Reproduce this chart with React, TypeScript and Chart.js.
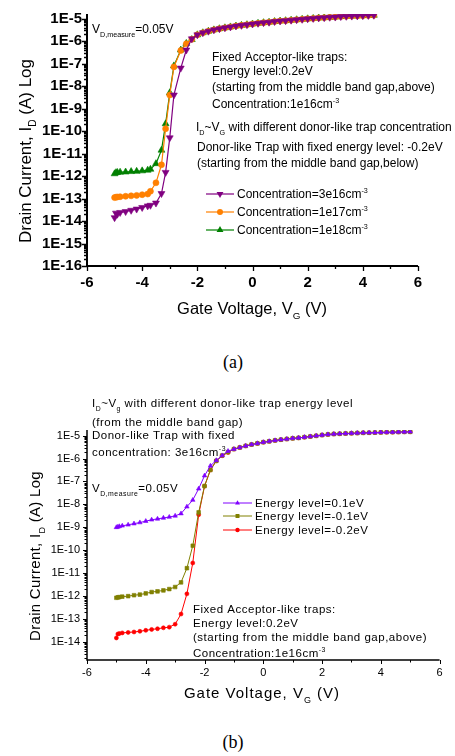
import React, { useEffect, useRef } from "react";
import { Chart, registerables } from "chart.js";

Chart.register(...registerables);

const SANS = '"Liberation Sans", Arial, sans-serif';
const SERIF = '"Liberation Serif", "Times New Roman", serif';

// ---------------- Chart (a): different donor-like trap concentration ----------------
const A_GATE_V = [
  -5, -4.95, -4.9, -4.8, -4.6, -4.4, -4.2, -4.0, -3.8, -3.7, -3.5, -3.3, -3.15, -3.0, -2.85, -2.6, -2.4, -2.2,
  -2.0, -1.8, -1.6, -1.4, -1.2, -1.0, -0.8, -0.6, -0.4, -0.2, 0, 0.2, 0.4, 0.6, 0.8, 1.0, 1.2, 1.4, 1.6, 1.8,
  2.0, 2.2, 2.4, 2.6, 2.8, 3.0, 3.2, 3.4, 3.6, 3.8, 4.0, 4.2, 4.4,
];
// on-state current shared by all three curves (-2.0 V .. 4.4 V)
const A_ON_STATE = [
  1.9e-6, 2.35e-6, 2.75e-6, 3.16e-6, 3.55e-6, 3.9e-6, 4.27e-6, 4.68e-6, 5.0e-6, 5.37e-6, 5.75e-6, 6.17e-6,
  6.6e-6, 6.9e-6, 7.4e-6, 7.8e-6, 8.1e-6, 8.5e-6, 8.9e-6, 9.3e-6, 9.8e-6, 1.02e-5, 1.07e-5, 1.1e-5, 1.15e-5,
  1.17e-5, 1.23e-5, 1.26e-5, 1.29e-5, 1.32e-5, 1.35e-5, 1.38e-5, 1.41e-5,
];
// sub-threshold part (-5 V .. -2.2 V)
const A_CONC_3E16_LOW = [
  1.41e-14, 2.24e-14, 2.0e-14, 2.4e-14, 2.63e-14, 3.0e-14, 3.4e-14, 4.0e-14, 4.7e-14, 5.0e-14, 6.3e-14,
  1.66e-13, 1.45e-12, 5.0e-11, 4.0e-9, 6.3e-8, 4.0e-7, 1.26e-6,
];
const A_CONC_1E17_LOW = [
  1.1e-13, 1.15e-13, 1.17e-13, 1.2e-13, 1.26e-13, 1.32e-13, 1.38e-13, 1.48e-13, 1.58e-13, 2.1e-13, 5.0e-13,
  3.16e-12, 1.26e-10, 4.0e-9, 7.1e-8, 3.8e-7, 7.6e-7, 1.2e-6,
];
const A_CONC_1E18_LOW = [
  1.26e-12, 1.41e-12, 1.45e-12, 1.48e-12, 1.51e-12, 1.58e-12, 1.62e-12, 1.7e-12, 1.82e-12, 2.0e-12, 3.55e-12,
  1.41e-11, 2.1e-10, 5.0e-9, 7.9e-8, 4.0e-7, 7.9e-7, 1.17e-6,
];
const A_CONC_3E16 = [...A_CONC_3E16_LOW, ...A_ON_STATE];
const A_CONC_1E17 = [...A_CONC_1E17_LOW, ...A_ON_STATE];
const A_CONC_1E18 = [...A_CONC_1E18_LOW, ...A_ON_STATE];
const A_SERIES = ["Concentration=3e16cm", "Concentration=1e17cm", "Concentration=1e18cm"];
const A_X_TICKS = [-6, -4, -2, 0, 2, 4, 6];
const A_Y_TICK_EXP = [-16, -15, -14, -13, -12, -11, -10, -9, -8, -7, -6, -5];

// ---------------- Chart (b): different donor-like trap energy level ----------------
const B_GATE_V = [
  -5, -4.95, -4.9, -4.8, -4.6, -4.4, -4.2, -4.0, -3.8, -3.6, -3.4, -3.2, -3.0, -2.8, -2.6, -2.4, -2.2, -2.0,
  -1.8, -1.6, -1.4, -1.2, -1.0, -0.8, -0.6, -0.4, -0.2, 0, 0.2, 0.4, 0.6, 0.8, 1.0, 1.2, 1.4, 1.6, 1.8, 2.0,
  2.2, 2.4, 2.6, 2.8, 3.0, 3.2, 3.4, 3.6, 3.8, 4.0, 4.2, 4.4, 4.6, 4.8, 5.0,
];
// on-state (-1.0 V .. 5.0 V)
const B_ON_STATE = [
  2.57e-6, 3.02e-6, 3.55e-6, 4.07e-6, 4.57e-6, 5.13e-6, 5.62e-6, 6.17e-6, 6.61e-6, 7.08e-6, 7.59e-6, 7.94e-6,
  8.51e-6, 9.12e-6, 9.77e-6, 1.05e-5, 1.12e-5, 1.17e-5, 1.2e-5, 1.23e-5, 1.26e-5, 1.29e-5, 1.32e-5, 1.33e-5,
  1.35e-5, 1.38e-5, 1.4e-5, 1.41e-5, 1.43e-5, 1.45e-5, 1.46e-5,
];
// -5 V .. -1.2 V
const B_LEVEL_P01_LOW = [
  1.0e-9, 1.05e-9, 1.1e-9, 1.17e-9, 1.29e-9, 1.45e-9, 1.62e-9, 1.86e-9, 2.14e-9, 2.34e-9, 2.57e-9, 2.82e-9,
  3.16e-9, 3.98e-9, 7.9e-9, 1.55e-8, 4.8e-8, 1.78e-7, 4.8e-7, 8.3e-7, 1.35e-6, 2.1e-6,
];
const B_LEVEL_M01_LOW = [
  8.5e-13, 8.9e-13, 9.1e-13, 9.5e-13, 1.0e-12, 1.1e-12, 1.17e-12, 1.32e-12, 1.51e-12, 1.62e-12, 1.78e-12,
  2.04e-12, 2.5e-12, 4.0e-12, 1.66e-11, 1.58e-10, 4.5e-9, 6.3e-8, 3.16e-7, 7.9e-7, 1.35e-6, 1.9e-6,
];
const B_LEVEL_M02_LOW = [
  1.51e-14, 2.24e-14, 2.34e-14, 2.5e-14, 2.63e-14, 2.75e-14, 2.95e-14, 3.24e-14, 3.55e-14, 3.8e-14, 4.17e-14,
  4.47e-14, 6.0e-14, 1.66e-13, 1.26e-12, 2.8e-11, 3.55e-9, 6.3e-8, 3.16e-7, 7.9e-7, 1.32e-6, 1.82e-6,
];
const B_LEVEL_P01 = [...B_LEVEL_P01_LOW, ...B_ON_STATE];
const B_LEVEL_M01 = [...B_LEVEL_M01_LOW, ...B_ON_STATE];
const B_LEVEL_M02 = [...B_LEVEL_M02_LOW, ...B_ON_STATE];
const B_SERIES = ["Energy level=0.1eV", "Energy level=-0.1eV", "Energy level=-0.2eV"];
const B_X_TICKS = [-6, -4, -2, 0, 2, 4, 6];
const B_Y_TICK_EXP = [-14, -13, -12, -11, -10, -9, -8, -7, -6, -5];

// ---------------- drawing helpers ----------------
type Seg = { t: string; k?: "sub" | "sup" };
type TextStyle = { size: number; bold?: boolean; spacing?: number };
type Note = { x: number; y: number; segs: Seg[] };

function drawRich(
  ctx: CanvasRenderingContext2D,
  segs: Seg[],
  x: number,
  y: number,
  st: TextStyle,
  align: "left" | "center" = "left"
) {
  const small = st.size * 0.6;
  const fonts = segs.map((s) => `${st.bold ? "bold " : ""}${s.k ? small : st.size}px ${SANS}`);
  (ctx as any).letterSpacing = `${st.spacing ?? 0}px`;
  let w = 0;
  segs.forEach((s, i) => {
    ctx.font = fonts[i];
    w += ctx.measureText(s.t).width;
  });
  let cx = align === "center" ? x - w / 2 : x;
  ctx.fillStyle = "#000";
  ctx.textAlign = "left";
  ctx.textBaseline = "alphabetic";
  const base = y + st.size * 0.36;
  segs.forEach((s, i) => {
    ctx.font = fonts[i];
    const dy = s.k === "sub" ? st.size * 0.3 : s.k === "sup" ? -st.size * 0.42 : 0;
    ctx.fillText(s.t, cx, base + dy);
    cx += ctx.measureText(s.t).width;
  });
  (ctx as any).letterSpacing = "0px";
}

function drawMarker(ctx: CanvasRenderingContext2D, style: string, x: number, y: number, r: number, color: string) {
  ctx.fillStyle = color;
  ctx.beginPath();
  if (style === "circle") {
    ctx.arc(x, y, r, 0, Math.PI * 2);
  } else if (style === "rect") {
    const h = r * Math.SQRT1_2;
    ctx.rect(x - h, y - h, 2 * h, 2 * h);
  } else {
    const rot = style === "down" ? Math.PI : 0;
    for (let k = 0; k < 3; k++) {
      const a = rot + (k * 2 * Math.PI) / 3;
      const px = x + Math.sin(a) * r;
      const py = y - Math.cos(a) * r;
      if (k === 0) ctx.moveTo(px, py);
      else ctx.lineTo(px, py);
    }
    ctx.closePath();
  }
  ctx.fill();
}

type Deco = {
  axisWidth: number;
  majorLen: number;
  minorLen: number;
  tickWidth: number;
  xTitle: { x: number; y: number; segs: Seg[]; st: TextStyle };
  yTitle: { x: number; y: number; segs: Seg[]; st: TextStyle };
  notes: Note[];
  noteStyle: TextStyle;
  legend: { x1: number; x2: number; xt: number; ys: number[]; markers: string[]; radii: number[]; lineWidth: number };
};

function decoPlugin(d: Deco) {
  return {
    id: "origin-deco",
    afterDraw(chart: any) {
      const { ctx, chartArea } = chart;
      const { left, right, top, bottom } = chartArea;
      const xs = chart.scales.x;
      const ys = chart.scales.y;
      ctx.save();
      ctx.strokeStyle = "#000";
      // axis lines
      ctx.lineWidth = d.axisWidth;
      ctx.beginPath();
      ctx.moveTo(left, top);
      ctx.lineTo(left, bottom);
      ctx.moveTo(left - d.axisWidth / 2, bottom);
      ctx.lineTo(right, bottom);
      ctx.stroke();
      // y ticks (log): major at decades, minor 2..9
      ctx.lineWidth = d.tickWidth;
      ctx.beginPath();
      const e0 = Math.floor(Math.log10(ys.min));
      const e1 = Math.ceil(Math.log10(ys.max));
      for (let e = e0; e <= e1; e++) {
        for (let m = 1; m <= 9; m++) {
          const v = m * Math.pow(10, e);
          if (v < ys.min * 0.999 || v > ys.max * 1.001) continue;
          const py = Math.round(ys.getPixelForValue(v)) + 0.5;
          const len = m === 1 ? d.majorLen : d.minorLen;
          ctx.moveTo(left - len, py);
          ctx.lineTo(left, py);
        }
      }
      // x ticks: major at even, minor at odd
      for (let v = Math.ceil(xs.min); v <= xs.max; v++) {
        const px = Math.round(xs.getPixelForValue(v)) + 0.5;
        const len = v % 2 === 0 ? d.majorLen : d.minorLen;
        ctx.moveTo(px, bottom);
        ctx.lineTo(px, bottom + len);
      }
      ctx.stroke();
      // titles
      drawRich(ctx, d.xTitle.segs, d.xTitle.x, d.xTitle.y, d.xTitle.st, "center");
      ctx.save();
      ctx.translate(d.yTitle.x, d.yTitle.y);
      ctx.rotate(-Math.PI / 2);
      drawRich(ctx, d.yTitle.segs, 0, 0, d.yTitle.st, "center");
      ctx.restore();
      // annotations
      d.notes.forEach((n) => drawRich(ctx, n.segs, n.x, n.y, d.noteStyle));
      // legend
      chart.data.datasets.forEach((ds: any, i: number) => {
        const y = d.legend.ys[i];
        ctx.strokeStyle = ds.borderColor;
        ctx.lineWidth = d.legend.lineWidth;
        ctx.beginPath();
        ctx.moveTo(d.legend.x1, y);
        ctx.lineTo(d.legend.x2, y);
        ctx.stroke();
        drawMarker(ctx, d.legend.markers[i], (d.legend.x1 + d.legend.x2) / 2, y, d.legend.radii[i], ds.borderColor);
        drawRich(ctx, [{ t: ds.label }, { t: "-3", k: "sup" }].filter((s) => ds.label.startsWith("Conc") || s.k !== "sup"), d.legend.xt, y, d.noteStyle);
      });
      ctx.restore();
    },
  };
}

function makeDataset(label: string, xsArr: number[], ysArr: number[], color: string, style: string, rot: number, r: number, lw: number) {
  return {
    label,
    data: xsArr.map((x, i) => ({ x, y: ysArr[i] })),
    borderColor: color,
    backgroundColor: color,
    pointBackgroundColor: color,
    pointBorderColor: color,
    pointBorderWidth: 0.6,
    pointRadius: r,
    pointStyle: style,
    pointRotation: rot,
    borderWidth: lw,
    tension: 0,
    fill: false,
  };
}

function buildA(): any {
  const tickFont = { family: SANS, size: 15, weight: "bold" as const };
  return {
    type: "line",
    data: {
      datasets: [
        makeDataset(A_SERIES[0], A_GATE_V, A_CONC_3E16, "#800080", "triangle", 180, 4, 1.2),
        makeDataset(A_SERIES[1], A_GATE_V, A_CONC_1E17, "#FF8000", "circle", 0, 3, 1.2),
        makeDataset(A_SERIES[2], A_GATE_V, A_CONC_1E18, "#008000", "triangle", 0, 4, 1.2),
      ],
    },
    options: {
      animation: false,
      responsive: false,
      devicePixelRatio: 1,
      events: [],
      layout: { padding: { left: 0, right: 37, top: 13.4, bottom: 0 } },
      plugins: { legend: { display: false }, tooltip: { enabled: false }, title: { display: false } },
      scales: {
        x: {
          type: "linear",
          min: -6,
          max: 6,
          afterBuildTicks: (s: any) => {
            s.ticks = A_X_TICKS.map((v) => ({ value: v }));
          },
          afterFit: (s: any) => {
            s.height = 64;
          },
          ticks: { font: tickFont, color: "#000", padding: 8, maxRotation: 0, autoSkip: false, callback: (v: any) => String(v) },
          grid: { display: false, drawTicks: false },
          border: { display: false },
        },
        y: {
          type: "logarithmic",
          min: 1e-16,
          max: 1.6e-5,
          afterBuildTicks: (s: any) => {
            s.ticks = A_Y_TICK_EXP.map((e) => ({ value: Math.pow(10, e) }));
          },
          afterFit: (s: any) => {
            s.width = 87;
          },
          ticks: { font: tickFont, color: "#000", padding: 5, autoSkip: false, callback: (v: any) => `1E${Math.round(Math.log10(v))}` },
          grid: { display: false, drawTicks: false },
          border: { display: false },
        },
      },
    },
    plugins: [
      decoPlugin({
        axisWidth: 2,
        majorLen: 5,
        minorLen: 3,
        tickWidth: 1.3,
        xTitle: { x: 252, y: 308, segs: [{ t: "Gate Voltage, V" }, { t: "G", k: "sub" }, { t: " (V)" }], st: { size: 16.5 } },
        yTitle: { x: 25, y: 151, segs: [{ t: "Drain Current, I" }, { t: "D", k: "sub" }, { t: " (A) Log" }], st: { size: 17 } },
        noteStyle: { size: 12 },
        notes: [
          { x: 92, y: 29, segs: [{ t: "V" }, { t: "D,measure", k: "sub" }, { t: "=0.05V" }] },
          { x: 212, y: 57, segs: [{ t: "Fixed Acceptor-like traps:" }] },
          { x: 212, y: 71, segs: [{ t: "Energy level:0.2eV" }] },
          { x: 212, y: 87, segs: [{ t: "(starting from the middle band gap,above)" }] },
          { x: 212, y: 104, segs: [{ t: "Concentration:1e16cm" }, { t: "-3", k: "sup" }] },
          { x: 196, y: 127, segs: [{ t: "I" }, { t: "D", k: "sub" }, { t: "~V" }, { t: "G", k: "sub" }, { t: " with different donor-like trap concentration" }] },
          { x: 197, y: 147, segs: [{ t: "Donor-like Trap with fixed energy level: -0.2eV" }] },
          { x: 197, y: 163, segs: [{ t: "(starting from the middle band gap,below)" }] },
        ],
        legend: { x1: 206, x2: 234, xt: 237, ys: [194, 212, 230], markers: ["down", "circle", "up"], radii: [4, 3, 4], lineWidth: 1.2 },
      }),
    ],
  };
}

function buildB(): any {
  const tickFont = { family: SANS, size: 11 };
  return {
    type: "line",
    data: {
      datasets: [
        makeDataset(B_SERIES[0], B_GATE_V, B_LEVEL_P01, "#8000FF", "triangle", 0, 2.6, 1),
        makeDataset(B_SERIES[1], B_GATE_V, B_LEVEL_M01, "#808000", "rect", 0, 2.6, 1),
        makeDataset(B_SERIES[2], B_GATE_V, B_LEVEL_M02, "#FF0000", "circle", 0, 2, 1),
      ],
    },
    options: {
      animation: false,
      responsive: false,
      devicePixelRatio: 1,
      events: [],
      layout: { padding: { left: 0, right: 15.4, top: 60, bottom: 0 } },
      plugins: { legend: { display: false }, tooltip: { enabled: false }, title: { display: false } },
      scales: {
        x: {
          type: "linear",
          min: -6,
          max: 6,
          afterBuildTicks: (s: any) => {
            s.ticks = B_X_TICKS.map((v) => ({ value: v }));
          },
          afterFit: (s: any) => {
            s.height = 60;
          },
          ticks: { font: tickFont, color: "#000", padding: 6, maxRotation: 0, autoSkip: false, callback: (v: any) => String(v) },
          grid: { display: false, drawTicks: false },
          border: { display: false },
        },
        y: {
          type: "logarithmic",
          min: 1.65e-15,
          max: 1.75e-5,
          afterBuildTicks: (s: any) => {
            s.ticks = B_Y_TICK_EXP.map((e) => ({ value: Math.pow(10, e) }));
          },
          afterFit: (s: any) => {
            s.width = 87;
          },
          ticks: { font: tickFont, color: "#000", padding: 7, autoSkip: false, callback: (v: any) => `1E${Math.round(Math.log10(v))}` },
          grid: { display: false, drawTicks: false },
          border: { display: false },
        },
      },
    },
    plugins: [
      decoPlugin({
        axisWidth: 1.5,
        majorLen: 4,
        minorLen: 2.5,
        tickWidth: 1,
        xTitle: { x: 262, y: 323, segs: [{ t: "Gate Voltage, V" }, { t: "G", k: "sub" }, { t: " (V)" }], st: { size: 15, spacing: 1 } },
        yTitle: { x: 35, y: 186, segs: [{ t: "Drain Current, I" }, { t: "D", k: "sub" }, { t: " (A) Log" }], st: { size: 15, spacing: 0.3 } },
        noteStyle: { size: 11.5, spacing: 0.5 },
        notes: [
          { x: 92, y: 33, segs: [{ t: "I" }, { t: "D", k: "sub" }, { t: "~V" }, { t: "g", k: "sub" }, { t: " with different donor-like trap energy level" }] },
          { x: 92, y: 52, segs: [{ t: "(from the middle band gap)" }] },
          { x: 92, y: 65, segs: [{ t: "Donor-like Trap with fixed" }] },
          { x: 92, y: 82, segs: [{ t: "concentration: 3e16cm" }, { t: "-3", k: "sup" }] },
          { x: 92, y: 118, segs: [{ t: "V" }, { t: "D,measure", k: "sub" }, { t: "=0.05V" }] },
          { x: 193, y: 239, segs: [{ t: "Fixed Acceptor-like traps:" }] },
          { x: 193, y: 253, segs: [{ t: "Energy level:0.2eV" }] },
          { x: 193, y: 267, segs: [{ t: "(starting from the middle band gap,above)" }] },
          { x: 193, y: 283, segs: [{ t: "Concentration:1e16cm" }, { t: "-3", k: "sup" }] },
        ],
        legend: { x1: 223, x2: 252, xt: 255, ys: [133, 146, 160], markers: ["up", "rect", "circle"], radii: [2.8, 2.8, 2.2], lineWidth: 1 },
      }),
    ],
  };
}

function ChartCanvas({ build, top, height }: { build: () => any; top: number; height: number }) {
  const ref = useRef<HTMLCanvasElement>(null);
  useEffect(() => {
    const chart = new Chart(ref.current as HTMLCanvasElement, build());
    return () => chart.destroy();
  }, []);
  return (
    <canvas
      ref={ref}
      width={455}
      height={height}
      style={{ position: "absolute", left: 0, top, width: 455, height, display: "block" }}
    />
  );
}

function Caption({ text, x, y }: { text: string; x: number; y: number }) {
  return (
    <div
      style={{
        position: "absolute",
        left: x,
        top: y,
        transform: "translate(-50%, -50%)",
        font: `18px ${SERIF}`,
        lineHeight: 1,
        color: "#000",
        whiteSpace: "nowrap",
      }}
    >
      {text}
    </div>
  );
}

export default function App() {
  return (
    <div style={{ position: "absolute", left: 0, top: 0, width: 455, height: 756, background: "#fff", overflow: "hidden" }}>
      <ChartCanvas build={buildA} top={0} height={330} />
      <Caption text="(a)" x={233} y={362} />
      <ChartCanvas build={buildB} top={370} height={350} />
      <Caption text="(b)" x={233} y={742} />
    </div>
  );
}
